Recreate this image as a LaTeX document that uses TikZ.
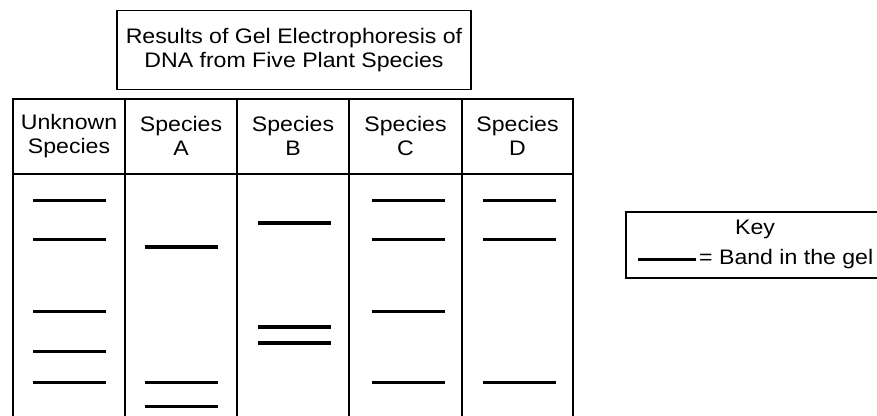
\documentclass[tikz,border=0pt]{standalone}
\usepackage{fontspec}
\setmainfont{Liberation Sans}[FakeStretch=1.1]
\usepackage{tikz}
\usetikzlibrary{positioning,calc}

\begin{document}
\begin{tikzpicture}[
    x=1pt, y=-1pt,
    every node/.style={font=\fontsize{21}{23.5}\selectfont, inner sep=0pt},
    frame/.style={draw, line width=1.7pt},
    head/.style={align=center},
    band/.style={line width=3.6pt}
]
    \useasboundingbox (0,0) rectangle (877,415);

    % Title
    \node[frame, minimum width=354pt, minimum height=79pt, align=center] (title) at (294,50)
        {Results of Gel Electrophoresis of\\DNA from Five Plant Species};

    % Table frame
    \draw[frame] (13,420) -- (13,99) -- (573,99) -- (573,420);
    \draw[frame] (13,174) -- (573,174);
    \foreach \x in {125,237,349,462}
        \draw[frame] (\x,99) -- (\x,420);

    % Column heads
    \node[head] (unk) at (69,136) {Unknown\\Species};
    \node[head] (spa) at (181,136) {Species\\A};
    \node[head] (spb) at (293,136) {Species\\B};
    \node[head] (spc) at (405.5,136) {Species\\C};
    \node[head] (spd) at (517.5,136) {Species\\D};

    % Bands
    \foreach \y in {200.5,239.5,311.5,351.5,382.5}
        \draw[band] (33,\y) -- (106,\y);
    \foreach \y in {247,382.5,406.5}
        \draw[band] (145,\y) -- (218,\y);
    \foreach \y in {223,327,343}
        \draw[band] (258,\y) -- (331,\y);
    \foreach \y in {200.5,239.5,311.5,382.5}
        \draw[band] (372,\y) -- (445,\y);
    \foreach \y in {200.5,239.5,382.5}
        \draw[band] (483,\y) -- (556,\y);

    % Key
    \draw[frame] (890,212) -- (626,212) -- (626,278) -- (890,278);
    \node (key) at (755,229) {Key};
    \coordinate (kl) at (638,259.5);
    \coordinate (kr) at (696,259.5);
    \draw[band] (kl) -- (kr);
    \node[anchor=west, right=3pt of kr] (keytxt) {= Band in the gel};
\end{tikzpicture}
\end{document}
